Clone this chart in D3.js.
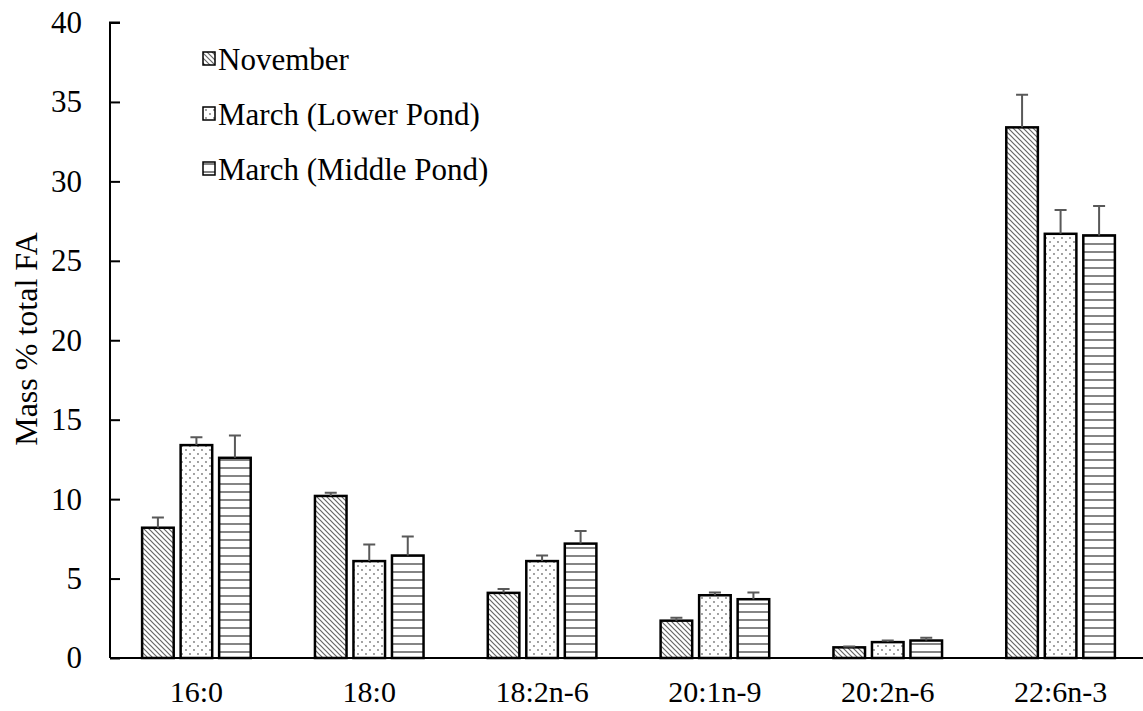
<!DOCTYPE html>
<html>
<head>
<meta charset="UTF-8">
<title>Fatty acids</title>
<script src="https://d3js.org/d3.v7.min.js"></script>
<style>
  body { margin: 0; background: #fff; }
  svg { display: block; }
  svg text { font-family: "Liberation Serif", "Times New Roman", serif; fill: #000; }
</style>
</head>
<body>
<div id="chart"></div>
<script>
// data
const categories = ["16:0", "18:0", "18:2n-6", "20:1n-9", "20:2n-6", "22:6n-3"];
const seriesNames = ["November", "March (Lower Pond)", "March (Middle Pond)"];
const november    = [8.2, 10.2, 4.1, 2.35, 0.67, 33.4];
const novemberErr = [0.65, 0.2, 0.25, 0.18, 0.05, 2.05];
const lowerPond    = [13.4, 6.1, 6.1, 3.95, 1.0, 26.7];
const lowerPondErr = [0.5, 1.05, 0.35, 0.18, 0.1, 1.5];
const middlePond    = [12.6, 6.45, 7.2, 3.7, 1.1, 26.6];
const middlePondErr = [1.4, 1.2, 0.8, 0.42, 0.17, 1.85];
const yTicks = [0, 5, 10, 15, 20, 25, 30, 35, 40];

const values = [november, lowerPond, middlePond];
const errors = [novemberErr, lowerPondErr, middlePondErr];
const patternIds = ["pDiag", "pDots", "pHoriz"];

const W = 1143, H = 711;
const fs = "31px";
const svg = d3.select("#chart").append("svg")
  .attr("width", W).attr("height", H);

// patterns
const defs = svg.append("defs");
const pd = defs.append("pattern").attr("id", "pDiag")
  .attr("patternUnits", "userSpaceOnUse").attr("width", 5).attr("height", 5);
pd.append("rect").attr("width", 5).attr("height", 5).attr("fill", "#fff");
pd.append("path").attr("d", "M-1,-1 L6,6 M-1,4 L1,6 M4,-1 L6,1")
  .attr("stroke", "#666").attr("stroke-width", 1.2);

const pdots = defs.append("pattern").attr("id", "pDots")
  .attr("patternUnits", "userSpaceOnUse").attr("width", 8).attr("height", 8);
pdots.append("rect").attr("width", 8).attr("height", 8).attr("fill", "#fff");
pdots.append("circle").attr("cx", 2).attr("cy", 2).attr("r", 0.9).attr("fill", "#777");
pdots.append("circle").attr("cx", 6).attr("cy", 6).attr("r", 0.9).attr("fill", "#777");

const ph = defs.append("pattern").attr("id", "pHoriz")
  .attr("patternUnits", "userSpaceOnUse").attr("width", 8).attr("height", 8);
ph.append("rect").attr("width", 8).attr("height", 8).attr("fill", "#fff");
ph.append("line").attr("x1", 0).attr("x2", 8).attr("y1", 4).attr("y2", 4)
  .attr("stroke", "#666").attr("stroke-width", 1.6);

// scales
const x0 = d3.scaleBand().domain(categories).range([110, 1147]).padding(0);
const x1 = d3.scaleBand().domain(seriesNames).range([0, 108.6]).paddingInner(0.18).paddingOuter(0);
const groupOffset = (x0.bandwidth() - 108.6) / 2;
const y = d3.scaleLinear().domain([0, 40]).range([658, 22.5]);

// y axis
const yAxis = svg.append("g")
  .attr("transform", "translate(110,0)")
  .call(d3.axisRight(y).tickValues(yTicks).tickSize(10).tickFormat(d3.format("d")))
  .attr("font-family", null);
yAxis.select(".domain").attr("stroke", "#000").attr("stroke-width", 2)
  .attr("d", `M0,${y(0)}V${y(40)}H10`);
yAxis.selectAll(".tick line").attr("stroke", "#000").attr("stroke-width", 2);
yAxis.selectAll(".tick text")
  .attr("x", -28).attr("text-anchor", "end")
  .style("font-size", fs);

// bars
const rows = [];
categories.forEach((c, i) => {
  seriesNames.forEach((s, j) => {
    rows.push({ cat: c, ser: s, j, v: values[j][i], e: errors[j][i] });
  });
});

const bars = svg.append("g");
bars.selectAll("rect").data(rows).enter().append("rect")
  .attr("x", d => x0(d.cat) + groupOffset + x1(d.ser))
  .attr("y", d => y(d.v))
  .attr("width", x1.bandwidth())
  .attr("height", d => y(0) - y(d.v))
  .attr("fill", d => `url(#${patternIds[d.j]})`)
  .attr("stroke", "#000").attr("stroke-width", 2.5);

// error bars
const eb = svg.append("g").attr("stroke", "#595959").attr("stroke-width", 2);
eb.selectAll("path").data(rows).enter().append("path")
  .attr("fill", "none")
  .attr("d", d => {
    const cx = x0(d.cat) + groupOffset + x1(d.ser) + x1.bandwidth() / 2;
    return `M${cx},${y(d.v)}V${y(d.v + d.e)}M${cx - 6},${y(d.v + d.e)}H${cx + 6}`;
  });

// x axis
svg.append("line")
  .attr("x1", 110).attr("x2", 1143).attr("y1", y(0)).attr("y2", y(0))
  .attr("stroke", "#000").attr("stroke-width", 2);
svg.append("g").selectAll("text").data(categories).enter().append("text")
  .attr("x", d => x0(d) + x0.bandwidth() / 2)
  .attr("y", 702)
  .attr("text-anchor", "middle")
  .style("font-size", "30px")
  .text(d => d);

// y title
svg.append("text")
  .attr("transform", "translate(37,339) rotate(-90)")
  .attr("text-anchor", "middle")
  .style("font-size", "32px")
  .text("Mass % total FA");

// legend
const leg = svg.append("g");
seriesNames.forEach((s, j) => {
  const ly = 70 + j * 55;
  leg.append("rect")
    .attr("x", 203).attr("y", ly - 18).attr("width", 12).attr("height", 13)
    .attr("fill", `url(#${patternIds[j]})`)
    .attr("stroke", "#000").attr("stroke-width", 1.5);
  leg.append("text")
    .attr("x", 218).attr("y", ly)
    .style("font-size", fs)
    .text(s);
});
</script>
</body>
</html>
